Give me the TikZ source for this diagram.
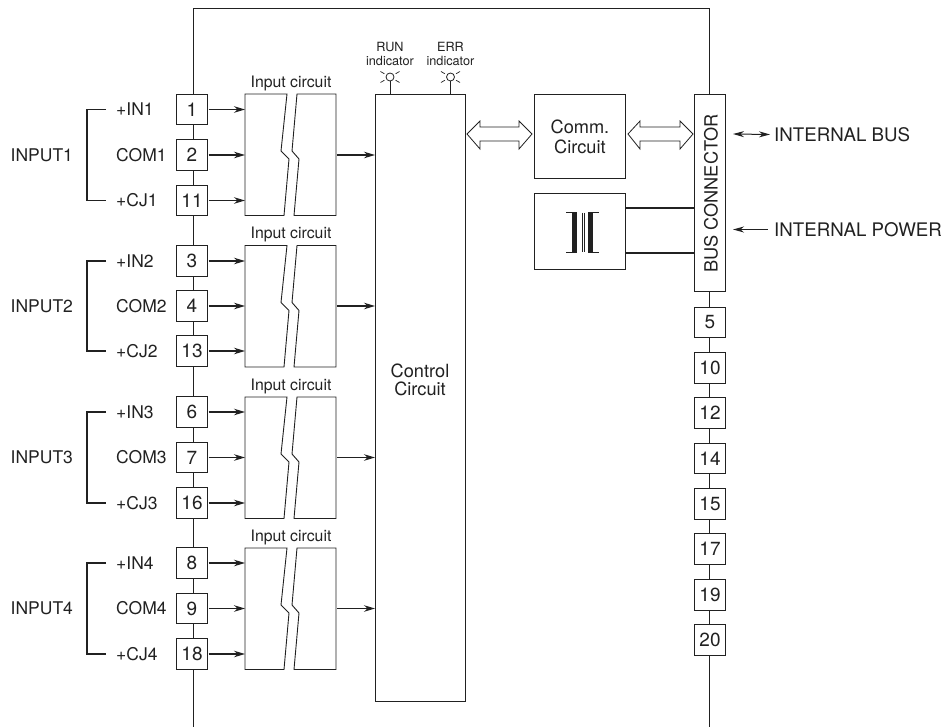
\documentclass[tikz,border=0pt]{standalone}
\usepackage{fontspec}
\setmainfont{TeX Gyre Heros}
\usetikzlibrary{arrows.meta,calc}
\definecolor{ink}{gray}{0.13}
\tikzset{
  x=1pt,y=-1pt,
  every node/.style={font=\fontsize{17.5}{18}\selectfont,text=ink},
  wire/.style={draw=ink,line width=0.9pt},
  boxs/.style={draw=ink,line width=0.9pt,fill=white,inner sep=0pt},
  term/.style={boxs,minimum width=30.5pt,minimum height=30.5pt,font=\fontsize{19}{20}\selectfont},
  sig/.style={draw=ink,line width=1.2pt,-{Stealth[length=11pt,width=6.5pt,inset=3.5pt]},shorten <=1pt},
  brk/.style={draw=ink,line width=1.1pt},
  small/.style={font=\fontsize{15.8}{18}\selectfont},
  tiny/.style={font=\fontsize{12.7}{14}\selectfont,align=center,inner sep=0pt},
  mid/.style={font=\fontsize{18.2}{20}\selectfont,align=center},
  ext/.style={font=\fontsize{18.7}{20}\selectfont,anchor=west,inner sep=0pt},
  dblarrow/.style={draw=ink,line width=0.8pt,fill=white,line join=miter},
}
\begin{document}
\begin{tikzpicture}
\useasboundingbox (0,0) rectangle (944,727);
% frame
\coordinate (ftl) at (193,8); \coordinate (ftr) at (709,8);
\coordinate (fbl) at (193,727); \coordinate (fbr) at (709,727);
\draw[wire] (fbl) -- (ftl) -- (ftr) -- (fbr);

% control circuit
\node[boxs,minimum width=90pt,minimum height=607pt,anchor=north west,align=center] (ctrl) at (375,94) {};
\node[mid,font=\fontsize{18.2}{18}\selectfont] (ctrltext) at (420,380) {Control\\Circuit};

% input groups
\foreach \g/\yt/\ya/\yb/\yc/\ta/\tb/\tc in {1/94/109.5/155/200.5/1/2/11, 2/245.5/261/306/351/3/4/13, 3/397/412/457.5/503/6/7/16, 4/548/563/608.5/654/8/9/18}{
  \coordinate (ca\g) at (245,\ya);
  \coordinate (cb\g) at (245,\yb);
  \coordinate (cc\g) at (245,\yc);
  \coordinate (cr\g) at (336,\yb);
  \draw[boxs] (245,\yt) -- (287,\yt) -- (281,\yt+57) -- (289,\yt+65) -- (284,\yt+121.5) -- (245,\yt+121.5) -- cycle;
  \draw[boxs] (297,\yt) -- (336,\yt) -- (336,\yt+121.5) -- (294,\yt+121.5) -- (299,\yt+65) -- (292,\yt+57) -- cycle;
  \node[small] (il\g) at (291,\yt-11) {Input circuit};
  \node[term] (ta\g) at (192,\ya) {\ta};
  \node[term] (tb\g) at (192,\yb) {\tb};
  \node[term] (tc\g) at (192,\yc) {\tc};
  \node[anchor=west,inner sep=0pt] (la\g) at (116,\ya) {+IN\g};
  \node[anchor=west,inner sep=0pt] (lb\g) at (116,\yb) {COM\g};
  \node[anchor=west,inner sep=0pt] (lc\g) at (116,\yc) {+CJ\g};
  \node[anchor=west,inner sep=0pt] (in\g) at (10.5,\yb) {INPUT\g};
  \coordinate (bra\g) at (106,\ya);
  \coordinate (brc\g) at (106,\yc);
  \draw[brk] (bra\g) -- (87,\ya) -- (87,\yc) -- (brc\g);
  \draw[sig] (ta\g.east) -- (ca\g);
  \draw[sig] (tb\g.east) -- (cb\g);
  \draw[sig] (tc\g.east) -- (cc\g);
  \draw[sig] (cr\g) -- (ctrl.west |- cr\g);
}

% indicators
\foreach \n/\x/\t in {run/390/RUN, err/450.5/ERR}{
  \node[draw=ink,line width=0.8pt,circle,minimum size=8pt,inner sep=0pt,fill=white] (led\n) at (\x,77) {};
  \draw[wire] (led\n.south) -- (\x,94);
  \foreach \a in {30,150,210,330}{
    \draw[draw=ink,line width=0.7pt] ($(led\n)+(\a:6.5)$) -- ($(led\n)+(\a:11)$);
  }
  \node[tiny] (lab\n) at (\x,54) {\t\\indicator};
}

% comm and transformer
\node[boxs,mid,minimum width=91pt,minimum height=84pt,anchor=north west] (comm) at (534,94) {Comm.\\Circuit};
\node[boxs,minimum width=91pt,minimum height=76pt,anchor=north west] (xfmr) at (534,193) {};
\fill[ink] (572,213) rectangle (577,252);
\fill[ink] (588,213) rectangle (593,252);
\draw[draw=ink,line width=0.7pt] (566,212.5) -- (577,212.5) (566,252) -- (577,252)
  (588,212.5) -- (599,212.5) (588,252) -- (599,252)
  (582,213) -- (582,252) (584.5,213) -- (584.5,252);

% bus connector
\node[boxs,minimum width=31pt,minimum height=197pt,anchor=north west] (bus) at (694,94) {};
\node[rotate=90,mid] (bustext) at (711,193.5) {BUS CONNECTOR};
\draw[wire,line width=1.2pt] (xfmr.east |- 0,208) -- (bus.west |- 0,208);
\draw[wire,line width=1.2pt] (xfmr.east |- 0,253) -- (bus.west |- 0,253);

% double arrows
\draw[dblarrow] (467,134) -- (480,121) -- (480,127) -- (519,127) -- (519,121) -- (532,134) -- (519,149) -- (519,141) -- (480,141) -- (480,149) -- cycle;
\draw[dblarrow] (628,134) -- (640,121) -- (640,127) -- (680,127) -- (680,121) -- (693,134) -- (680,149) -- (680,141) -- (640,141) -- (640,149) -- cycle;

% external
\node[ext] (ibus) at (774,134.5) {INTERNAL BUS};
\node[ext] (ipow) at (774,229.5) {INTERNAL POWER};
\coordinate (busa) at (733,134);
\coordinate (powa) at (733,229.5);
\draw[draw=ink,line width=1pt,{Stealth[length=11pt,width=6pt,inset=3.5pt]}-{Stealth[length=11pt,width=6pt,inset=3.5pt]}] (busa) -- ($(ibus.west)+(-4,0)$);
\draw[draw=ink,line width=1.1pt,{Stealth[length=11pt,width=6pt,inset=3.5pt]}-] (powa) -- ($(ipow.west)+(-6,0)$);

% right terminals
\foreach \n/\y in {5/322.5,10/368,12/413,14/458.5,15/504,17/549,19/595,20/640}{
  \node[term] (r\n) at (710,\y) {\n};
}
\end{tikzpicture}
\end{document}
